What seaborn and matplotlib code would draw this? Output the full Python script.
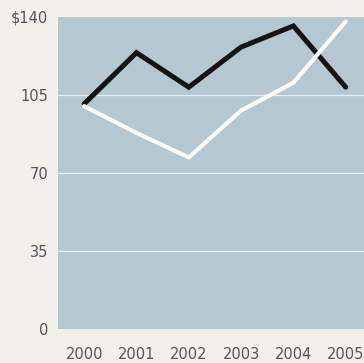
import matplotlib
matplotlib.use("Agg")
import matplotlib.pyplot as plt
import seaborn as sns
import pandas as pd

years = ["2000", "2001", "2002", "2003", "2004", "2005"]
series_black = [101, 124, 108.5, 126.5, 136, 108.5]
series_white = [100, 88, 77, 98, 110.5, 138]
y_ticks = [0, 35, 70, 105, 140]
y_tick_labels = ["0", "35", "70", "105", "$140"]

df = pd.DataFrame({
    "x": list(range(len(years))) * 2,
    "value": series_black + series_white,
    "series": ["black"] * len(years) + ["white"] * len(years),
})

sns.set_theme(style="white")
plt.rcParams["font.family"] = ["DejaVu Sans"]

fig = plt.figure(figsize=(3.64, 3.63), dpi=100, facecolor="#f2f0eb")
ax = fig.add_axes([58/364, 34/363, 306/364, 312/363])
ax.set_facecolor("#b5c7d0")

for y in y_ticks[1:-1]:
    ax.axhline(y, color="#e6eef2", lw=0.9, zorder=1)

sns.lineplot(data=df[df.series == "black"], x="x", y="value", color="#141414",
             lw=3.6, ax=ax, zorder=3, solid_joinstyle="miter")
sns.lineplot(data=df[df.series == "white"], x="x", y="value", color="#fbfbf8",
             lw=3.0, ax=ax, zorder=4, solid_joinstyle="miter")

ax.set_xlim(-0.5, 5.35)
ax.set_ylim(0, 140)
ax.set_xticks(range(len(years)))
ax.set_xticklabels(years)
ax.set_yticks(y_ticks)
ax.set_yticklabels(y_tick_labels)
ax.tick_params(axis="both", length=0, labelsize=10.5, colors="#555555")
ax.tick_params(axis="y", pad=7)
ax.tick_params(axis="x", pad=13)
ax.set_xlabel("")
ax.set_ylabel("")
for s in ax.spines.values():
    s.set_visible(False)

fig.savefig("out.png", dpi=100, facecolor=fig.get_facecolor())
